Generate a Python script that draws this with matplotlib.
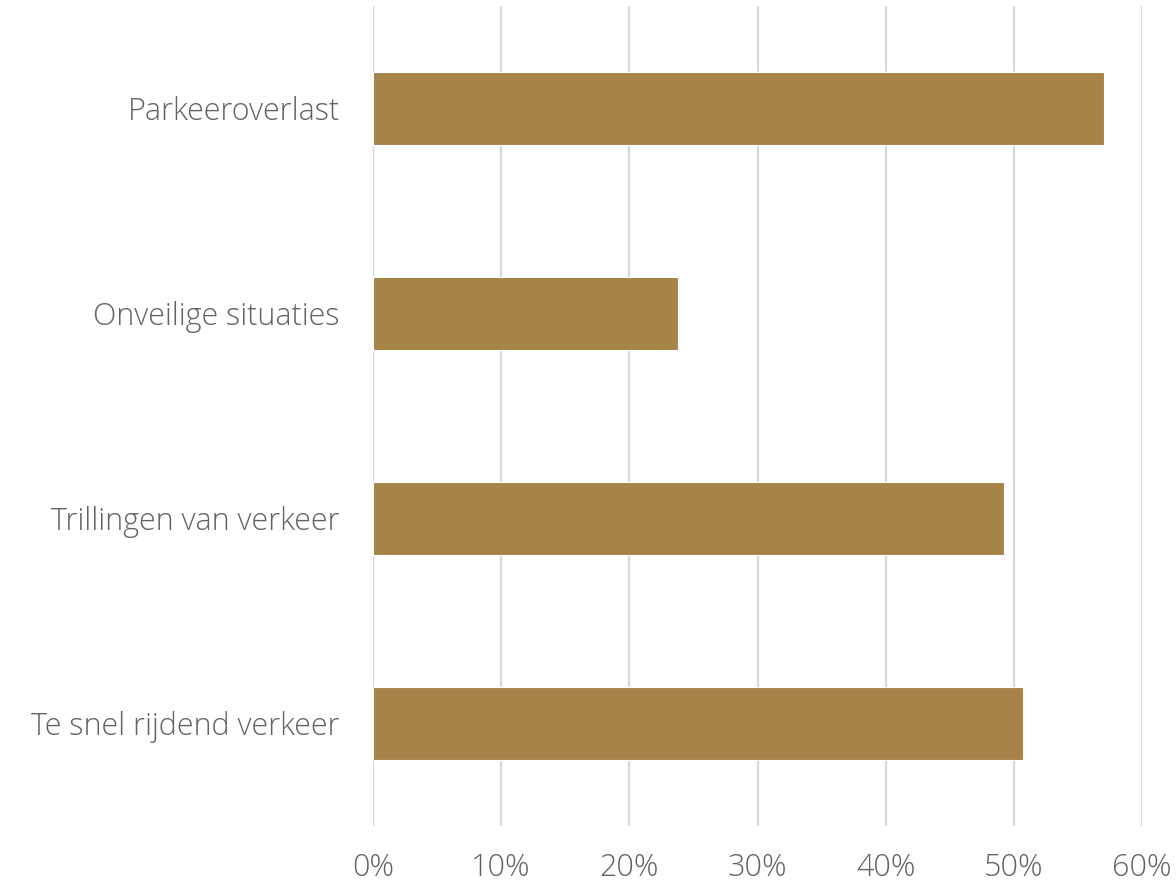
import matplotlib.pyplot as plt
from matplotlib.ticker import FuncFormatter

categories = ['Te snel rijdend verkeer', 'Trillingen van verkeer', 'Onveilige situaties', 'Parkeeroverlast']
values = [0.507, 0.492, 0.238, 0.570]
xticks = [0, 0.1, 0.2, 0.3, 0.4, 0.5, 0.6]

plt.rcParams['font.family'] = ['Open Sans', 'DejaVu Sans']

fig = plt.figure(figsize=(11.76, 8.85), dpi=100)
ax = fig.add_axes([0.3172, 0.0667, 0.6539, 0.9266])

ax.barh(range(len(categories)), values, height=0.355, color='#A68349',
        edgecolor='white', linewidth=0.8, zorder=3)

ax.set_xlim(0, 0.6)
ax.set_ylim(-0.5, len(categories) - 0.5)
ax.set_xticks(xticks)
ax.xaxis.set_major_formatter(FuncFormatter(lambda v, p: f'{v*100:.0f}%'))
ax.set_yticks(range(len(categories)))
ax.set_yticklabels(categories)

ax.grid(axis='x', color='#D9D9D9', linewidth=1.6, zorder=0)
ax.grid(axis='y', visible=False)
for s in ax.spines.values():
    s.set_visible(False)
ax.tick_params(axis='both', length=0, labelsize=22, labelcolor='#636363')
ax.tick_params(axis='y', pad=24)
ax.tick_params(axis='x', pad=19)
for lab in ax.get_xticklabels() + ax.get_yticklabels():
    lab.set_fontweight('light')

fig.savefig('out.png', dpi=100)
